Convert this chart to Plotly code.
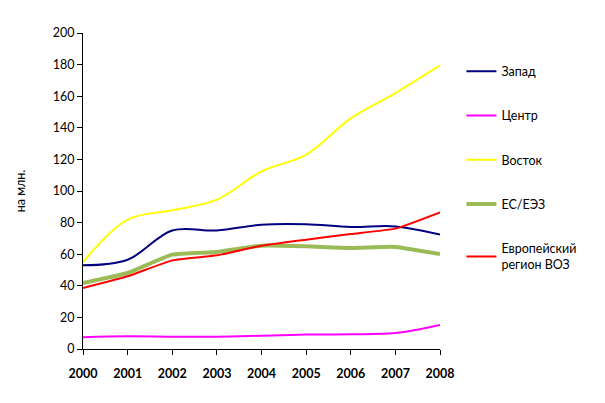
import plotly.graph_objects as go

years = ["2000", "2001", "2002", "2003", "2004", "2005", "2006", "2007", "2008"]
zapad = [53, 56.5, 75, 75, 78.7, 79, 77.2, 77.6, 72.4]
centr = [7.4, 8.0, 7.8, 7.8, 8.4, 9.1, 9.3, 10.1, 15.2]
vostok = [55, 81.9, 87.8, 94.5, 112.4, 123, 146, 162, 179.5]
es_eez = [41.8, 48.1, 59.7, 61.4, 65.4, 65, 64, 64.6, 60.1]
evro = [38.6, 46, 56.1, 59.3, 65.4, 69.2, 72.8, 76.2, 86.5]

names = ["Запад", "Центр", "Восток", "ЕС/ЕЭЗ", "Европейский<br>регион ВОЗ"]
series = [zapad, centr, vostok, es_eez, evro]
colors = ["#000080", "#FF00FF", "#FFFF00", "#9BBB59", "#FF0000"]
widths = [2, 2, 2, 4, 2]
smooth = [1.0, 1.0, 1.0, 0.4, 0.4]

fig = go.Figure()
for i, (n, s) in enumerate(zip(names, series)):
    fig.add_trace(go.Scatter(
        x=years, y=s, name=n, mode="lines",
        line=dict(color=colors[i], width=widths[i], shape="spline", smoothing=smooth[i]),
        legendgroup=f"g{i}",
    ))

fig.update_layout(
    width=605, height=403,
    margin=dict(l=67, r=173, t=25, b=62),
    paper_bgcolor="white", plot_bgcolor="white",
    font=dict(family="Lato, Open Sans, sans-serif", size=12, color="black"),
    showlegend=True,
    legend=dict(x=1.06, y=0.925, xanchor="left", yanchor="top",
                tracegroupgap=25, font=dict(size=12.5), itemwidth=30,
                bgcolor="rgba(0,0,0,0)"),
)
fig.update_xaxes(
    type="category", range=[0, 8], showline=True, linecolor="black", linewidth=1,
    ticks="outside", ticklen=5, tickcolor="black", showgrid=False, zeroline=False,
    ticklabelstandoff=8,
    tickfont=dict(size=12.5, family="Lato, sans-serif", weight="bold"),
)
fig.update_yaxes(
    range=[0, 200], dtick=20, showline=True, linecolor="black", linewidth=1,
    ticks="outside", ticklen=5, tickcolor="black", showgrid=False, zeroline=False,
    tickfont=dict(size=12.5),
    title=dict(text="на млн.", standoff=24, font=dict(size=12.5)),
)
fig.write_html("out.html")
